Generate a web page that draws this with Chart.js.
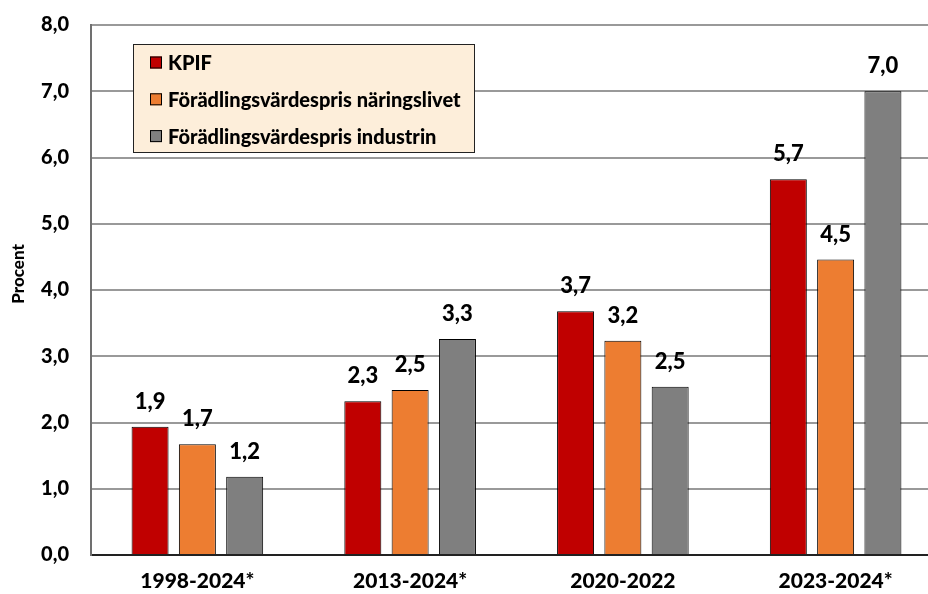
<!DOCTYPE html>
<html lang="sv">
<head>
<meta charset="utf-8">
<title>KPIF och förädlingsvärdespris</title>
<script src="https://cdn.jsdelivr.net/npm/chart.js@4/dist/chart.umd.min.js"></script>
<style>
    html, body { margin: 0; padding: 0; background: #fff; overflow: hidden; }
    #wrap { width: 944px; height: 594px; position: relative; }
</style>
</head>
<body>
<div id="wrap"><canvas id="chart"></canvas></div>
<script>
// Årlig procentuell förändring per period
const periods = ['1998-2024*', '2013-2024*', '2020-2022', '2023-2024*'];
const kpif = [1.937, 2.32, 3.68, 5.67];
const fvpNaringsliv = [1.67, 2.49, 3.235, 4.46];
const fvpIndustri = [1.18, 3.26, 2.54, 7.0];
const yTicks = [0, 1, 2, 3, 4, 5, 6, 7, 8];

const FONT = 'Lato, "Open Sans", sans-serif';
const WEIGHT = '900';

function fmt(v) {
    return v.toFixed(1).replace('.', ',');
}

// Värdeetiketter ovanför staplarna
const barLabels = {
    id: 'barLabels',
    afterDatasetsDraw(chart) {
        const ctx = chart.ctx;
        ctx.save();
        ctx.font = WEIGHT + ' 22px ' + FONT;
        ctx.fillStyle = '#000';
        ctx.textAlign = 'center';
        ctx.textBaseline = 'middle';
        chart.data.datasets.forEach((ds, i) => {
            chart.getDatasetMeta(i).data.forEach((bar, j) => {
                ctx.fillText(fmt(ds.data[j]), bar.x, bar.y - 25);
            });
        });
        ctx.restore();
    }
};

// Teckenförklaring i en ruta inne i diagrammet + y-axelns rubrik
const boxLegend = {
    id: 'boxLegend',
    afterDraw(chart) {
        const ctx = chart.ctx;
        const area = chart.chartArea;
        const x = area.left + 42, y = area.top + 19, w = 341, h = 108;
        ctx.save();
        ctx.fillStyle = '#FDEEDA';
        ctx.fillRect(x, y, w, h);
        ctx.strokeStyle = '#222';
        ctx.lineWidth = 1;
        ctx.strokeRect(x + 0.5, y + 0.5, w, h);
        ctx.font = WEIGHT + ' 20px ' + FONT;
        ctx.textBaseline = 'middle';
        chart.data.datasets.forEach((ds, i) => {
            const cy = y + 18.5 + i * 36.8;
            ctx.fillStyle = ds.backgroundColor;
            ctx.fillRect(x + 17, cy - 6, 12, 12);
            ctx.strokeStyle = '#000';
            ctx.strokeRect(x + 17.5, cy - 5.5, 11, 11);
            ctx.fillStyle = '#000';
            ctx.fillText(ds.label, x + 35, cy + 1);
        });

        ctx.translate(19, area.top + 249);
        ctx.rotate(-Math.PI / 2);
        ctx.textAlign = 'center';
        ctx.font = WEIGHT + ' 17px ' + FONT;
        ctx.fillText('Procent', 0, 0);
        ctx.restore();
    }
};

const barStyle = {
    borderColor: '#000',
    borderWidth: 1,
    borderSkipped: 'bottom',
    categoryPercentage: 0.667,
    barPercentage: 0.782
};

new Chart(document.getElementById('chart'), {
    type: 'bar',
    data: {
        labels: periods,
        datasets: [
            { label: 'KPIF', data: kpif, backgroundColor: '#C00000', ...barStyle },
            { label: 'Förädlingsvärdespris näringslivet', data: fvpNaringsliv, backgroundColor: '#ED7D31', ...barStyle },
            { label: 'Förädlingsvärdespris industrin', data: fvpIndustri, backgroundColor: '#7F7F7F', ...barStyle }
        ]
    },
    options: {
        responsive: true,
        maintainAspectRatio: false,
        animation: false,
        layout: { padding: { top: 25, right: 2, left: 0, bottom: 0 } },
        plugins: {
            legend: { display: false },
            tooltip: { enabled: false }
        },
        scales: {
            x: {
                grid: { display: false, drawTicks: false },
                border: { display: true, color: '#222', width: 2 },
                ticks: {
                    color: '#000',
                    padding: 14,
                    font: { family: FONT, size: 21, weight: WEIGHT }
                },
                afterFit(scale) { scale.height = 39; }
            },
            y: {
                min: 0,
                max: 8,
                afterBuildTicks(scale) {
                    scale.ticks = yTicks.map(v => ({ value: v }));
                },
                // osynliga tickmarkeringar ger avståndet mellan etiketter och axel
                grid: { color: '#999', lineWidth: 2, drawTicks: true, tickLength: 22, tickColor: 'rgba(0,0,0,0)' },
                border: { display: true, color: '#707070', width: 2 },
                ticks: {
                    color: '#000',
                    padding: 0,
                    font: { family: FONT, size: 20, weight: WEIGHT },
                    callback: v => fmt(v)
                },
                afterFit(scale) { scale.width = 91; }
            }
        }
    },
    plugins: [barLabels, boxLegend]
});
</script>
</body>
</html>
